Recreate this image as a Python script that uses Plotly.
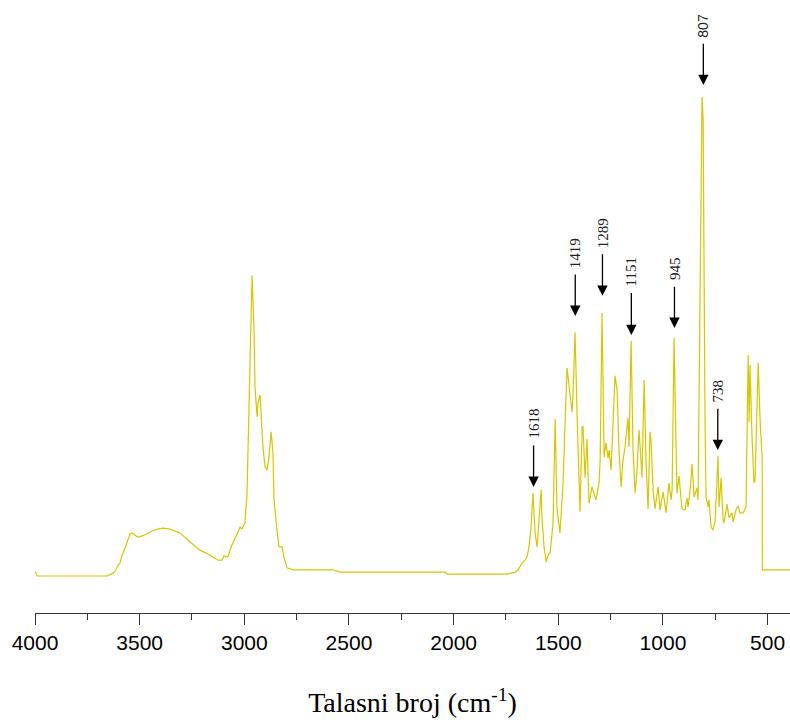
import plotly.graph_objects as go

# Wavenumber (cm-1) and relative intensity
wavenumber = [4000, 3990, 3656, 3627, 3613, 3603, 3594, 3584, 3570, 3560, 3546, 3537, 3522, 3508,
              3474, 3441, 3412, 3388, 3355, 3307, 3259, 3212, 3164, 3126, 3106, 3097, 3087, 3078,
              3063, 3054, 3040, 3020, 3011, 2997, 2987, 2978, 2968, 2963, 2954, 2949, 2939, 2935,
              2925, 2920, 2911, 2901, 2892, 2882, 2872, 2863, 2858, 2844, 2834, 2820, 2810, 2796,
              2767, 2576, 2543, 2041, 2031, 1745, 1707, 1692, 1673, 1659, 1649, 1640, 1630, 1621,
              1611, 1601, 1582, 1578, 1568, 1558, 1549, 1539, 1525, 1515, 1506, 1492, 1477, 1467,
              1458, 1453, 1444, 1434, 1429, 1420, 1410, 1401, 1396, 1386, 1382, 1372, 1363, 1353,
              1339, 1320, 1305, 1300, 1291, 1281, 1272, 1262, 1257, 1248, 1238, 1229, 1219, 1210,
              1200, 1191, 1181, 1167, 1162, 1152, 1143, 1133, 1124, 1114, 1105, 1100, 1090, 1081,
              1071, 1062, 1057, 1047, 1038, 1023, 1014, 999, 985, 971, 961, 956, 947, 937, 933,
              923, 909, 894, 885, 880, 870, 861, 851, 837, 832, 823, 818, 813, 808, 804, 799, 794,
              784, 780, 770, 761, 751, 746, 737, 732, 722, 713, 708, 694, 684, 670, 665, 651, 641,
              632, 617, 603, 598, 593, 588, 584, 574, 565, 560, 550, 545, 536, 531, 526, 525, 393]
intensity = [1.0, 0.0, 0.0, 0.6, 1.3, 2.3, 2.7, 4.4, 5.8, 6.9, 8.8, 9.0, 8.6, 8.1,
             8.6, 9.4, 9.8, 10.0, 9.8, 9.0, 7.1, 5.4, 4.4, 3.3, 3.3, 4.2, 4.0, 4.0,
             6.1, 6.9, 8.5, 10.2, 9.8, 11.1, 17.3, 34.7, 52.0, 62.8, 52.0, 39.5, 33.2, 36.1,
             37.8, 34.0, 26.9, 22.8, 22.1, 24.8, 30.1, 25.7, 15.9, 9.6, 6.1, 6.1, 3.8, 1.7,
             1.3, 1.3, 0.8, 0.8, 0.4, 0.4, 0.8, 1.3, 2.7, 3.3, 4.0, 6.1, 10.2, 17.3,
             9.0, 6.1, 18.0, 12.3, 6.1, 2.9, 4.4, 4.8, 11.1, 32.8, 13.8, 9.0, 19.4, 32.6,
             43.4, 41.5, 37.8, 34.2, 38.8, 50.9, 33.2, 19.4, 13.4, 31.1, 31.3, 20.5, 28.6, 15.2,
             18.6, 15.9, 19.6, 24.2, 54.9, 24.8, 27.8, 24.6, 26.3, 22.1, 32.6, 41.8, 38.8, 26.3,
             18.6, 24.2, 26.9, 33.0, 26.9, 49.1, 26.3, 17.3, 22.1, 30.5, 24.2, 20.5, 40.9, 24.2,
             14.0, 30.1, 28.4, 18.0, 14.0, 18.6, 13.8, 17.5, 13.2, 19.4, 15.9, 18.0, 49.7, 19.0, 17.3,
             20.9, 14.0, 13.8, 16.3, 14.4, 18.0, 23.4, 16.5, 18.4, 15.9, 57.6, 82.7, 100.0, 95.2, 57.6, 32.6, 16.5,
             14.4, 15.9, 10.2, 9.6, 11.3, 15.9, 25.1, 14.4, 20.5, 11.7, 11.1, 15.0, 12.1, 13.2, 11.3, 13.8, 14.6,
             13.2, 13.2, 14.4, 28.4, 46.1, 32.2, 44.1, 28.4, 19.4, 20.0, 36.7, 44.5, 32.6, 26.9, 24.6, 1.3, 1.3]

# Peak labels and arrow tip heights
peak_labels = [1618, 1419, 1289, 1151, 945, 807, 738]
peak_tips = [18.6, 54.3, 58.5, 50.3, 51.8, 102.5, 26.3]

fig = go.Figure()
fig.add_trace(go.Scatter(x=wavenumber, y=intensity, mode="lines",
                         line=dict(color="#d8c600", width=1.2),
                         showlegend=False, hoverinfo="skip"))

for lab, tip in zip(peak_labels, peak_tips):
    txt = str(lab)
    sans = (lab == 807)
    half_len = (7.8 if sans else 7.5) * len(txt) / 2
    pad = 6
    fig.add_annotation(x=lab, y=tip, xref="x", yref="y", text=txt,
                       showarrow=True, ax=0, ay=-(42 + pad + half_len),
                       arrowhead=2, arrowsize=1.6, arrowwidth=1.3,
                       arrowcolor="#000000", standoff=0, textangle=-90,
                       borderpad=pad,
                       font=dict(family="Liberation Sans" if sans else "Liberation Serif",
                                 size=14 if sans else 15, color="#222222"))

fig.update_layout(
    width=790, height=726,
    margin=dict(l=35, r=0, t=0, b=113),
    paper_bgcolor="white", plot_bgcolor="white",
    xaxis=dict(range=[4000, 393], showline=True, linecolor="#333333", linewidth=1,
               ticks="outside", ticklen=11, tickwidth=1, tickcolor="#333333",
               tick0=0, dtick=500, showgrid=False, zeroline=False,
               minor=dict(dtick=250, ticks="outside", ticklen=6, tickcolor="#333333", showgrid=False),
               tickfont=dict(family="Liberation Sans", size=21, color="#000000"),
               title=dict(text="Talasni broj (cm<sup>-1</sup>)",
                          font=dict(family="Liberation Serif", size=28, color="#000000"),
                          standoff=39)),
    yaxis=dict(range=[-7.72, 120.25], visible=False),
)

fig.write_html("out.html")
